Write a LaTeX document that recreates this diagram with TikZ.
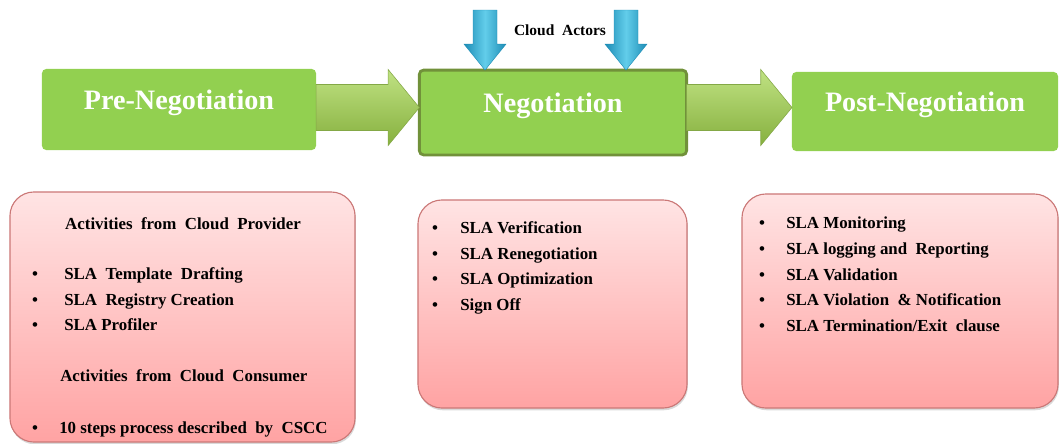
\documentclass[tikz,border=0pt]{standalone}
\usepackage{fontspec}
\setmainfont{Liberation Serif}
\usetikzlibrary{calc,shadows}

\definecolor{phasegreen}{HTML}{92D050}
\definecolor{phaseborder}{HTML}{71913A}
\definecolor{flowtop}{HTML}{C0E283}
\definecolor{flowbottom}{HTML}{86B03E}
\definecolor{flowedge}{HTML}{84A846}
\definecolor{actorlight}{HTML}{62CDEA}
\definecolor{actordark}{HTML}{1E8DB6}
\definecolor{pinktop}{HTML}{FFE4E4}
\definecolor{pinkbottom}{HTML}{FFA3A3}
\definecolor{pinkborder}{HTML}{CB7877}

\tikzset{
  phase/.style={rectangle, rounded corners=3pt, fill=phasegreen, text=white,
    font=\bfseries\fontsize{20}{24}\selectfont, inner sep=0pt, outer sep=0pt,
    text height=14pt, text depth=14pt},
  flowarrow/.style={top color=flowtop, bottom color=flowbottom, draw=flowedge, line width=0.4pt},
  actorarrow/.style={left color=actordark, right color=actordark, middle color=actorlight, draw=actordark, line width=0.3pt},
  listbox/.style={rectangle, rounded corners=0.6cm, draw=pinkborder, line width=0.8pt,
    top color=pinktop, bottom color=pinkbottom,
    drop shadow={opacity=0.3, shadow xshift=0.6pt, shadow yshift=-1.6pt}},
  heading/.style={font=\bfseries\fontsize{12}{14}\selectfont, inner sep=0pt, anchor=base},
  item/.style={font=\bfseries\fontsize{12}{14}\selectfont, inner sep=0pt, anchor=base west},
  bullet/.style={font=\bfseries\fontsize{12}{14}\selectfont, inner sep=0pt, anchor=base}
}

\begin{document}
\begin{tikzpicture}[x=0.025cm,y=-0.025cm]
\useasboundingbox (0,0) rectangle (1060,443);

% the three phases
\node[phase, minimum width=6.85cm, minimum height=2.025cm] (pre) at (179,109.5) {Pre-Negotiation};
\node[phase, draw=phaseborder, line width=2pt, minimum width=6.68cm, minimum height=2.12cm] (neg) at (553,112.5) {Negotiation};
\node[phase, minimum width=6.65cm, minimum height=1.975cm] (post) at (925,111.5) {Post-Negotiation};

% fat arrows between phases
\coordinate (axis) at (0,107.5);
\foreach \a/\b in {pre/neg, neg/post} {
  \coordinate (\a tail) at (\a.east |- axis);
  \coordinate (\a tip) at (\b.west |- axis);
  \draw[flowarrow] ($(\a tail)+(0cm,0.575cm)$) -- ($(\a tip)+(-0.78cm,0.575cm)$)
    -- ($(\a tip)+(-0.78cm,0.95cm)$) -- (\a tip) -- ($(\a tip)+(-0.78cm,-0.95cm)$)
    -- ($(\a tip)+(-0.78cm,-0.575cm)$) -- ($(\a tail)+(0cm,-0.575cm)$) -- cycle;
}

% cloud actors
\foreach \x [count=\i] in {485,626} {
  \coordinate (actor\i) at (\x,10);
  \coordinate (actor\i tip) at (actor\i |- neg.north);
  \draw[actorarrow] ($(actor\i)+(-0.3cm,0cm)$) -- ($(actor\i tip)+(-0.3cm,0.65cm)$)
    -- ($(actor\i tip)+(-0.525cm,0.65cm)$) -- (actor\i tip) -- ($(actor\i tip)+(0.525cm,0.65cm)$)
    -- ($(actor\i tip)+(0.3cm,0.65cm)$) -- ($(actor\i)+(0.3cm,0cm)$) -- cycle;
}
\node[font=\bfseries\fontsize{11}{13}\selectfont, inner sep=0pt] (actors) at (560,30) {Cloud\ \ Actors};

% activity boxes
\node[listbox, minimum width=8.625cm, minimum height=6.25cm] (provider) at (182.5,317) {};
\node[listbox, minimum width=6.725cm, minimum height=5.2cm] (negotlist) at (552.5,304) {};
\node[listbox, minimum width=7.9cm, minimum height=5.35cm] (postlist) at (900,301) {};

% pre-negotiation activities
\node[heading] (provhead) at (183,229.5) {Activities\ \ from\ \ Cloud\ \ Provider};
\foreach \t [count=\i] in {SLA\ \ Template\ \ Drafting, SLA\ \ Registry Creation, SLA Profiler} {
  \node[bullet] (provb\i) at (35,254+25.5*\i) {\textbullet};
  \node[item] (prov\i) at (64,254+25.5*\i) {\t};
}
\node[item] (conshead) at (60,381.5) {Activities\ \ from\ \ Cloud\ \ Consumer};
\node[bullet] (consb1) at (35,433) {\textbullet};
\node[item] (cons1) at (59,433) {10 steps process described\ \ by\ \ CSCC};

% negotiation activities
\foreach \t [count=\i] in {SLA Verification, SLA Renegotiation, SLA Optimization, Sign Off} {
  \node[bullet] (negb\i) at (435,207.8+25.7*\i) {\textbullet};
  \node[item] (neg\i) at (460,207.8+25.7*\i) {\t};
}

% post-negotiation activities
\foreach \t [count=\i] in {SLA Monitoring, SLA logging and\ \ Reporting, SLA Validation,
  SLA Violation\ \ \& Notification, SLA Termination/Exit\ \ clause} {
  \node[bullet] (postb\i) at (762,202.8+25.75*\i) {\textbullet};
  \node[item] (post\i) at (786,202.8+25.75*\i) {\t};
}
\end{tikzpicture}
\end{document}
